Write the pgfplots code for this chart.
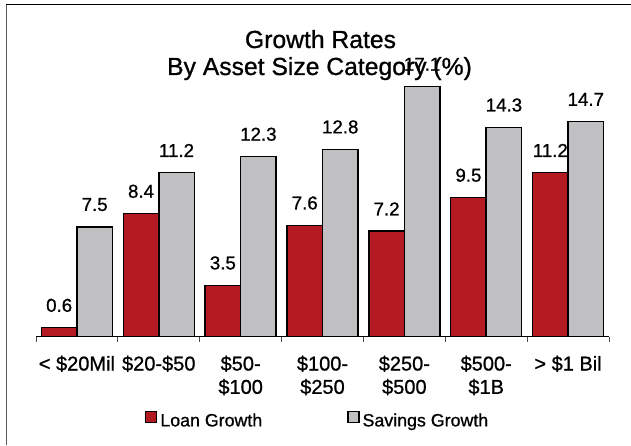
\documentclass[border=0pt]{standalone}
\usepackage{fontspec}
\setmainfont{Liberation Sans}[RawFeature={embolden=0.9}]
\usepackage{pgfplots}
\pgfplotsset{compat=1.18}
\definecolor{loanred}{RGB}{180,26,33}
\definecolor{savgray}{RGB}{192,192,194}
\newcommand{\tl}[1]{\begin{tabular}[t]{@{}c@{}}#1\end{tabular}}
\begin{document}
\begin{tikzpicture}[x=1pt,y=1pt]
\path[use as bounding box] (0,0) rectangle (631,445);
\draw[line width=1pt, gray!70!black] (6.7,0) -- (6.7,440.7);
\draw[line width=1pt, black] (6.2,440.7) -- (631,440.7);
\node[anchor=base, font=\fontsize{24.7}{28}\selectfont, inner sep=0pt] at (320.5,397) {Growth Rates};
\node[anchor=base, font=\fontsize{24.7}{28}\selectfont, inner sep=0pt] at (319.5,370) {By Asset Size Category (\%)};
\begin{axis}[
  at={(36pt,108.5pt)}, anchor=south west,
  scale only axis, width=573pt, height=263.2pt,
  ymin=0, ymax=18, xmin=-0.5, xmax=6.5,
  axis y line=none, axis x line*=bottom,
  x axis line style={line width=1pt, black, -},
  ybar=0pt, bar width=35.5pt,
  xtick={0,...,6},
  xticklabels={{\tl{< \$20Mil}},{\tl{\$20-\$50}},{\tl{\$50-\\\$100}},{\tl{\$100-\\\$250}},{\tl{\$250-\\\$500}},{\tl{\$500-\\\$1B}},{\tl{> \$1 Bil}}},
  major tick length=0pt,
  minor xtick={-0.5,0.5,...,6.5},
  minor tick length=5pt,
  tick align=outside,
  minor tick style={line width=0.8pt, gray!60!black},
  xticklabel style={font=\fontsize{20}{23.3}\selectfont, anchor=base, inner sep=0pt, yshift=-34pt},
  nodes near coords={\pgfmathprintnumber[fixed,fixed zerofill,precision=1]{\pgfplotspointmeta}},
  every node near coord/.append style={font=\fontsize{18.7}{22}\selectfont, anchor=south, inner sep=0pt, yshift=15pt, black},
  /pgf/number format/assume math mode=true,
  legend columns=2,
  legend style={draw=none, fill=none, inner sep=0pt, at={(0.190,-0.348)}, anchor=south west,
    font=\fontsize{17.8}{20}\selectfont, nodes={inner sep=0pt}, column sep=3pt,
    /tikz/every even column/.append style={column sep=85pt}},
  clip=false,
]
\addplot[fill=loanred, draw=black, line width=1.5pt,
  legend image code/.code={\draw[fill=loanred, draw=black, line width=1.3pt] (0pt,-1.5pt) rectangle (11pt,9.5pt);}]
  coordinates {(0,0.6) (1,8.4) (2,3.5) (3,7.6) (4,7.2) (5,9.5) (6,11.2)};
\addplot[fill=savgray, draw=black, line width=1.5pt,
  legend image code/.code={\draw[fill=savgray, draw=black, line width=1.3pt] (0pt,-1.5pt) rectangle (11pt,9.5pt);}]
  coordinates {(0,7.5) (1,11.2) (2,12.3) (3,12.8) (4,17.1) (5,14.3) (6,14.7)};
\legend{Loan Growth, Savings Growth}
\end{axis}
\end{tikzpicture}
\end{document}
